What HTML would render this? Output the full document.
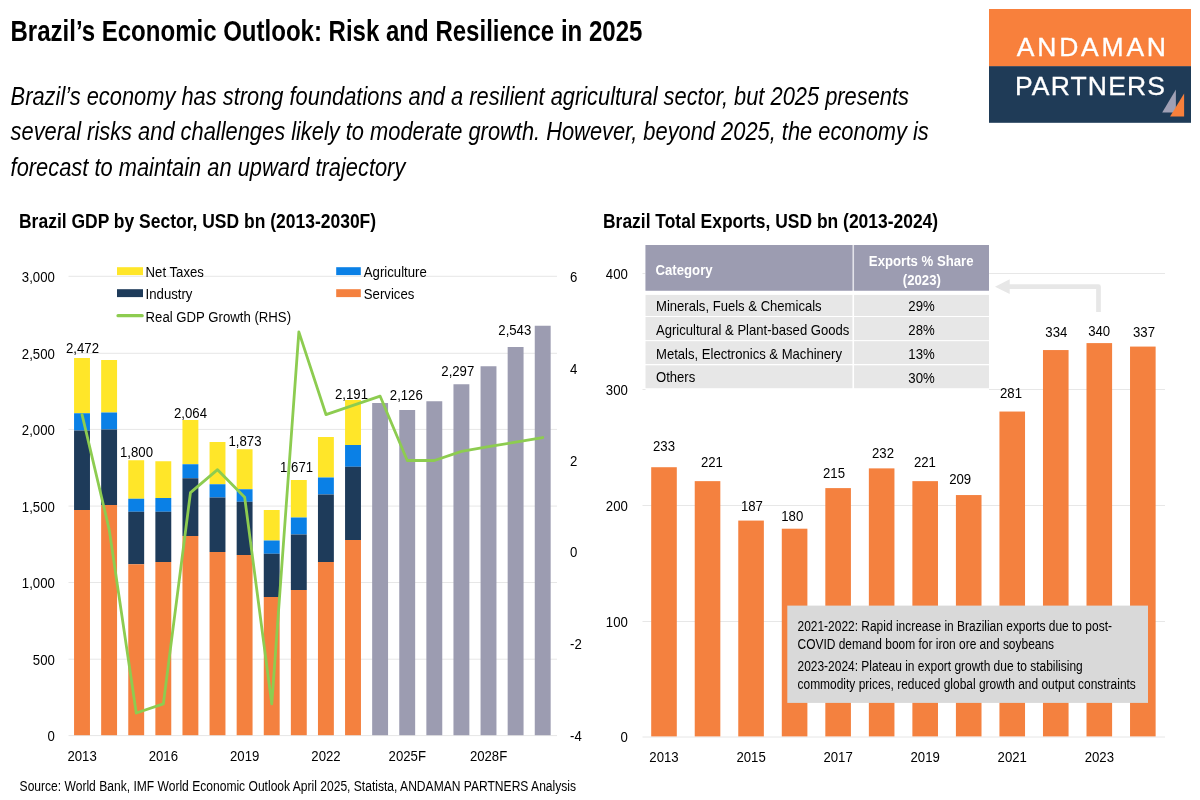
<!DOCTYPE html>
<html lang="en"><head><meta charset="utf-8"><title>Brazil’s Economic Outlook: Risk and Resilience in 2025</title>
<style>
html,body{margin:0;padding:0;background:#fff}
body{width:1200px;height:800px;overflow:hidden}
svg{display:block;font-family:'Liberation Sans', Arial, sans-serif}
text{font-family:'Liberation Sans', Arial, sans-serif}
</style></head><body>
<svg width="1200" height="800" viewBox="0 0 1200 800">
<rect width="1200" height="800" fill="#fff"/>
<text transform="translate(10.50 40.90) scale(0.8195 1)" font-size="29.33" font-weight="bold">Brazil’s Economic Outlook: Risk and Resilience in 2025</text>
<text transform="translate(10.60 104.80) scale(0.8195 1)" font-size="26.67" font-style="italic">Brazil’s economy has strong foundations and a resilient agricultural sector, but 2025 presents</text>
<text transform="translate(10.60 140.15) scale(0.8195 1)" font-size="26.67" font-style="italic">several risks and challenges likely to moderate growth. However, beyond 2025, the economy is</text>
<text transform="translate(10.60 175.50) scale(0.8195 1)" font-size="26.67" font-style="italic">forecast to maintain an upward trajectory</text>
<rect x="989.00" y="9.00" width="202.00" height="57.60" fill="#F8803C"/>
<rect x="989.00" y="66.20" width="202.00" height="56.60" fill="#1F3B57"/>
<text transform="translate(1016.8 55.8) scale(1.06 1)" font-size="25" fill="#fff" stroke="#fff" stroke-width="0.3" letter-spacing="2.63">ANDAMAN</text>
<text transform="translate(1015.0 95.4) scale(1.06 1)" font-size="25" fill="#fff" stroke="#fff" stroke-width="0.3" letter-spacing="1.1">PARTNERS</text>
<polygon points="1162.2,112.4 1175.9,89.4 1175.9,112.4" fill="#A0A0B5"/>
<polygon points="1170.1,116.4 1184.1,93.6 1184.1,116.4" fill="#F8803C"/>
<text transform="translate(19.00 228.00) scale(0.849 1)" font-size="20.6" font-weight="bold">Brazil GDP by Sector, USD bn (2013-2030F)</text>
<text transform="translate(603.00 228.00) scale(0.8477 1)" font-size="20.6" font-weight="bold">Brazil Total Exports, USD bn (2013-2024)</text>
<line x1="68.50" y1="276.30" x2="557.00" y2="276.30" stroke="#E7E7E7" stroke-width="1"/>
<line x1="68.50" y1="353.30" x2="557.00" y2="353.30" stroke="#E7E7E7" stroke-width="1"/>
<line x1="68.50" y1="429.40" x2="557.00" y2="429.40" stroke="#E7E7E7" stroke-width="1"/>
<line x1="68.50" y1="506.10" x2="557.00" y2="506.10" stroke="#E7E7E7" stroke-width="1"/>
<line x1="68.50" y1="582.50" x2="557.00" y2="582.50" stroke="#E7E7E7" stroke-width="1"/>
<line x1="68.50" y1="659.20" x2="557.00" y2="659.20" stroke="#E7E7E7" stroke-width="1"/>
<line x1="68.50" y1="735.60" x2="557.00" y2="735.60" stroke="#E6E6E6" stroke-width="1"/>
<text transform="translate(54.80 281.70) scale(0.867 1)" font-size="15.2" text-anchor="end">3,000</text>
<text transform="translate(54.80 358.70) scale(0.867 1)" font-size="15.2" text-anchor="end">2,500</text>
<text transform="translate(54.80 434.80) scale(0.867 1)" font-size="15.2" text-anchor="end">2,000</text>
<text transform="translate(54.80 511.50) scale(0.867 1)" font-size="15.2" text-anchor="end">1,500</text>
<text transform="translate(54.80 587.90) scale(0.867 1)" font-size="15.2" text-anchor="end">1,000</text>
<text transform="translate(54.80 664.60) scale(0.867 1)" font-size="15.2" text-anchor="end">500</text>
<text transform="translate(54.80 741.00) scale(0.867 1)" font-size="15.2" text-anchor="end">0</text>
<text transform="translate(570.00 281.85) scale(0.867 1)" font-size="15.2">6</text>
<text transform="translate(570.00 373.70) scale(0.867 1)" font-size="15.2">4</text>
<text transform="translate(570.00 465.55) scale(0.867 1)" font-size="15.2">2</text>
<text transform="translate(570.00 557.40) scale(0.867 1)" font-size="15.2">0</text>
<text transform="translate(570.00 649.25) scale(0.867 1)" font-size="15.2">-2</text>
<text transform="translate(570.00 741.10) scale(0.867 1)" font-size="15.2">-4</text>
<rect x="74.06" y="358.00" width="15.90" height="55.25" fill="#FFE629"/>
<rect x="74.06" y="413.25" width="15.90" height="17.25" fill="#0A80E6"/>
<rect x="74.06" y="430.50" width="15.90" height="79.50" fill="#1E3B5A"/>
<rect x="74.06" y="510.00" width="15.90" height="225.20" fill="#F4813F"/>
<rect x="101.16" y="360.00" width="15.90" height="52.50" fill="#FFE629"/>
<rect x="101.16" y="412.50" width="15.90" height="17.00" fill="#0A80E6"/>
<rect x="101.16" y="429.50" width="15.90" height="75.50" fill="#1E3B5A"/>
<rect x="101.16" y="505.00" width="15.90" height="230.20" fill="#F4813F"/>
<rect x="128.26" y="460.25" width="15.90" height="38.50" fill="#FFE629"/>
<rect x="128.26" y="498.75" width="15.90" height="13.00" fill="#0A80E6"/>
<rect x="128.26" y="511.75" width="15.90" height="52.50" fill="#1E3B5A"/>
<rect x="128.26" y="564.25" width="15.90" height="170.95" fill="#F4813F"/>
<rect x="155.36" y="461.25" width="15.90" height="36.75" fill="#FFE629"/>
<rect x="155.36" y="498.00" width="15.90" height="13.75" fill="#0A80E6"/>
<rect x="155.36" y="511.75" width="15.90" height="50.25" fill="#1E3B5A"/>
<rect x="155.36" y="562.00" width="15.90" height="173.20" fill="#F4813F"/>
<rect x="182.46" y="420.00" width="15.90" height="44.25" fill="#FFE629"/>
<rect x="182.46" y="464.25" width="15.90" height="14.00" fill="#0A80E6"/>
<rect x="182.46" y="478.25" width="15.90" height="57.75" fill="#1E3B5A"/>
<rect x="182.46" y="536.00" width="15.90" height="199.20" fill="#F4813F"/>
<rect x="209.56" y="442.00" width="15.90" height="42.25" fill="#FFE629"/>
<rect x="209.56" y="484.25" width="15.90" height="13.25" fill="#0A80E6"/>
<rect x="209.56" y="497.50" width="15.90" height="54.50" fill="#1E3B5A"/>
<rect x="209.56" y="552.00" width="15.90" height="183.20" fill="#F4813F"/>
<rect x="236.66" y="449.25" width="15.90" height="40.00" fill="#FFE629"/>
<rect x="236.66" y="489.25" width="15.90" height="12.50" fill="#0A80E6"/>
<rect x="236.66" y="501.75" width="15.90" height="53.25" fill="#1E3B5A"/>
<rect x="236.66" y="555.00" width="15.90" height="180.20" fill="#F4813F"/>
<rect x="263.76" y="510.00" width="15.90" height="30.50" fill="#FFE629"/>
<rect x="263.76" y="540.50" width="15.90" height="13.25" fill="#0A80E6"/>
<rect x="263.76" y="553.75" width="15.90" height="43.25" fill="#1E3B5A"/>
<rect x="263.76" y="597.00" width="15.90" height="138.20" fill="#F4813F"/>
<rect x="290.86" y="480.00" width="15.90" height="37.50" fill="#FFE629"/>
<rect x="290.86" y="517.50" width="15.90" height="17.00" fill="#0A80E6"/>
<rect x="290.86" y="534.50" width="15.90" height="55.50" fill="#1E3B5A"/>
<rect x="290.86" y="590.00" width="15.90" height="145.20" fill="#F4813F"/>
<rect x="317.96" y="437.00" width="15.90" height="40.50" fill="#FFE629"/>
<rect x="317.96" y="477.50" width="15.90" height="17.00" fill="#0A80E6"/>
<rect x="317.96" y="494.50" width="15.90" height="67.50" fill="#1E3B5A"/>
<rect x="317.96" y="562.00" width="15.90" height="173.20" fill="#F4813F"/>
<rect x="345.06" y="400.00" width="15.90" height="45.00" fill="#FFE629"/>
<rect x="345.06" y="445.00" width="15.90" height="21.75" fill="#0A80E6"/>
<rect x="345.06" y="466.75" width="15.90" height="73.25" fill="#1E3B5A"/>
<rect x="345.06" y="540.00" width="15.90" height="195.20" fill="#F4813F"/>
<rect x="372.16" y="403.00" width="15.90" height="332.20" fill="#9C9CB1"/>
<rect x="399.26" y="410.00" width="15.90" height="325.20" fill="#9C9CB1"/>
<rect x="426.36" y="401.25" width="15.90" height="333.95" fill="#9C9CB1"/>
<rect x="453.46" y="384.25" width="15.90" height="350.95" fill="#9C9CB1"/>
<rect x="480.56" y="366.25" width="15.90" height="368.95" fill="#9C9CB1"/>
<rect x="507.66" y="347.00" width="15.90" height="388.20" fill="#9C9CB1"/>
<rect x="534.76" y="325.75" width="15.90" height="409.45" fill="#9C9CB1"/>
<text transform="translate(82.50 352.80) scale(0.867 1)" font-size="15.2" text-anchor="middle">2,472</text>
<text transform="translate(136.50 457.00) scale(0.867 1)" font-size="15.2" text-anchor="middle">1,800</text>
<text transform="translate(190.50 417.50) scale(0.867 1)" font-size="15.2" text-anchor="middle">2,064</text>
<text transform="translate(245.00 445.50) scale(0.867 1)" font-size="15.2" text-anchor="middle">1,873</text>
<text transform="translate(296.60 472.00) scale(0.867 1)" font-size="15.2" text-anchor="middle">1,671</text>
<text transform="translate(351.50 399.30) scale(0.867 1)" font-size="15.2" text-anchor="middle">2,191</text>
<text transform="translate(406.30 399.50) scale(0.867 1)" font-size="15.2" text-anchor="middle">2,126</text>
<text transform="translate(457.80 375.80) scale(0.867 1)" font-size="15.2" text-anchor="middle">2,297</text>
<text transform="translate(514.80 334.50) scale(0.867 1)" font-size="15.2" text-anchor="middle">2,543</text>
<polyline points="82.06,414.56 109.16,529.36 136.26,713.04 163.36,703.86 190.46,492.62 217.56,469.66 244.66,497.22 271.76,703.86 298.86,331.90 325.96,414.56 353.06,405.38 380.16,396.19 407.26,460.48 434.36,460.48 461.46,451.30 488.56,446.70 515.66,442.11 542.76,437.52" fill="none" stroke="#8DCC50" stroke-width="2.8" stroke-linejoin="round" stroke-linecap="round"/>
<text transform="translate(82.06 760.60) scale(0.867 1)" font-size="15.2" text-anchor="middle">2013</text>
<text transform="translate(163.36 760.60) scale(0.867 1)" font-size="15.2" text-anchor="middle">2016</text>
<text transform="translate(244.66 760.60) scale(0.867 1)" font-size="15.2" text-anchor="middle">2019</text>
<text transform="translate(325.96 760.60) scale(0.867 1)" font-size="15.2" text-anchor="middle">2022</text>
<text transform="translate(407.26 760.60) scale(0.867 1)" font-size="15.2" text-anchor="middle">2025F</text>
<text transform="translate(488.56 760.60) scale(0.867 1)" font-size="15.2" text-anchor="middle">2028F</text>
<rect x="117.00" y="267.20" width="26.00" height="7.90" fill="#FFE629"/>
<text transform="translate(145.60 277.00) scale(0.867 1)" font-size="15.2">Net Taxes</text>
<rect x="117.00" y="289.20" width="26.00" height="7.90" fill="#1E3B5A"/>
<text transform="translate(145.60 299.30) scale(0.867 1)" font-size="15.2">Industry</text>
<line x1="118" y1="315.7" x2="142.2" y2="315.7" stroke="#8DCC50" stroke-width="3.2" stroke-linecap="round"/>
<text transform="translate(145.60 322.20) scale(0.867 1)" font-size="15.2">Real GDP Growth (RHS)</text>
<rect x="336.20" y="267.20" width="24.60" height="7.90" fill="#0A80E6"/>
<text transform="translate(363.80 277.00) scale(0.867 1)" font-size="15.2">Agriculture</text>
<rect x="336.20" y="289.20" width="24.60" height="7.90" fill="#F4813F"/>
<text transform="translate(363.80 299.30) scale(0.867 1)" font-size="15.2">Services</text>
<line x1="642.50" y1="273.50" x2="1165.00" y2="273.50" stroke="#E7E7E7" stroke-width="1"/>
<line x1="642.50" y1="389.50" x2="1165.00" y2="389.50" stroke="#E7E7E7" stroke-width="1"/>
<line x1="642.50" y1="505.50" x2="1165.00" y2="505.50" stroke="#E7E7E7" stroke-width="1"/>
<line x1="642.50" y1="621.50" x2="1165.00" y2="621.50" stroke="#E7E7E7" stroke-width="1"/>
<line x1="642.50" y1="737.00" x2="1165.00" y2="737.00" stroke="#E6E6E6" stroke-width="1"/>
<text transform="translate(627.80 279.10) scale(0.867 1)" font-size="15.2" text-anchor="end">400</text>
<text transform="translate(627.80 395.10) scale(0.867 1)" font-size="15.2" text-anchor="end">300</text>
<text transform="translate(627.80 511.10) scale(0.867 1)" font-size="15.2" text-anchor="end">200</text>
<text transform="translate(627.80 627.10) scale(0.867 1)" font-size="15.2" text-anchor="end">100</text>
<text transform="translate(627.80 742.10) scale(0.867 1)" font-size="15.2" text-anchor="end">0</text>
<rect x="651.20" y="467.22" width="25.60" height="269.18" fill="#F4813F"/>
<rect x="694.73" y="481.14" width="25.60" height="255.26" fill="#F4813F"/>
<rect x="738.26" y="520.58" width="25.60" height="215.82" fill="#F4813F"/>
<rect x="781.79" y="528.70" width="25.60" height="207.70" fill="#F4813F"/>
<rect x="825.32" y="488.10" width="25.60" height="248.30" fill="#F4813F"/>
<rect x="868.85" y="468.38" width="25.60" height="268.02" fill="#F4813F"/>
<rect x="912.38" y="481.14" width="25.60" height="255.26" fill="#F4813F"/>
<rect x="955.91" y="495.06" width="25.60" height="241.34" fill="#F4813F"/>
<rect x="999.44" y="411.54" width="25.60" height="324.86" fill="#F4813F"/>
<rect x="1042.97" y="350.06" width="25.60" height="386.34" fill="#F4813F"/>
<rect x="1086.50" y="343.10" width="25.60" height="393.30" fill="#F4813F"/>
<rect x="1130.03" y="346.58" width="25.60" height="389.82" fill="#F4813F"/>
<text transform="translate(664.00 450.75) scale(0.867 1)" font-size="15.2" text-anchor="middle">233</text>
<text transform="translate(711.90 467.00) scale(0.867 1)" font-size="15.2" text-anchor="middle">221</text>
<text transform="translate(751.90 510.75) scale(0.867 1)" font-size="15.2" text-anchor="middle">187</text>
<text transform="translate(792.25 521.25) scale(0.867 1)" font-size="15.2" text-anchor="middle">180</text>
<text transform="translate(834.00 478.00) scale(0.867 1)" font-size="15.2" text-anchor="middle">215</text>
<text transform="translate(883.00 458.00) scale(0.867 1)" font-size="15.2" text-anchor="middle">232</text>
<text transform="translate(924.90 467.20) scale(0.867 1)" font-size="15.2" text-anchor="middle">221</text>
<text transform="translate(960.20 484.20) scale(0.867 1)" font-size="15.2" text-anchor="middle">209</text>
<text transform="translate(1011.00 398.00) scale(0.867 1)" font-size="15.2" text-anchor="middle">281</text>
<text transform="translate(1056.30 337.40) scale(0.867 1)" font-size="15.2" text-anchor="middle">334</text>
<text transform="translate(1099.20 335.60) scale(0.867 1)" font-size="15.2" text-anchor="middle">340</text>
<text transform="translate(1144.00 336.80) scale(0.867 1)" font-size="15.2" text-anchor="middle">337</text>
<text transform="translate(664.00 762.00) scale(0.867 1)" font-size="15.2" text-anchor="middle">2013</text>
<text transform="translate(751.06 762.00) scale(0.867 1)" font-size="15.2" text-anchor="middle">2015</text>
<text transform="translate(838.12 762.00) scale(0.867 1)" font-size="15.2" text-anchor="middle">2017</text>
<text transform="translate(925.18 762.00) scale(0.867 1)" font-size="15.2" text-anchor="middle">2019</text>
<text transform="translate(1012.24 762.00) scale(0.867 1)" font-size="15.2" text-anchor="middle">2021</text>
<text transform="translate(1099.30 762.00) scale(0.867 1)" font-size="15.2" text-anchor="middle">2023</text>
<polyline points="1098.5,312.1 1098.5,286.65 1008,286.65" fill="none" stroke="#E7E7E7" stroke-width="4.7" stroke-linejoin="round"/>
<polygon points="995,286.65 1009.7,279.3 1009.7,294" fill="#E7E7E7"/>
<rect x="645.50" y="245.00" width="343.50" height="146.00" fill="#fff"/>
<rect x="645.50" y="245.00" width="343.50" height="45.70" fill="#E3E3EA"/>
<rect x="645.50" y="245.00" width="206.95" height="45.70" fill="#9C9CB1"/>
<rect x="854.05" y="245.00" width="134.95" height="45.70" fill="#9C9CB1"/>
<rect x="645.50" y="294.90" width="206.95" height="21.10" fill="#E7E7E7"/>
<rect x="854.05" y="294.90" width="134.95" height="21.10" fill="#E7E7E7"/>
<text transform="translate(656.00 310.70) scale(0.8607 1)" font-size="15.2">Minerals, Fuels &amp; Chemicals</text>
<text transform="translate(921.50 311.00) scale(0.867 1)" font-size="15.2" text-anchor="middle">29%</text>
<rect x="645.50" y="317.00" width="206.95" height="23.10" fill="#E7E7E7"/>
<rect x="854.05" y="317.00" width="134.95" height="23.10" fill="#E7E7E7"/>
<text transform="translate(656.00 334.60) scale(0.8607 1)" font-size="15.2">Agricultural &amp; Plant-based Goods</text>
<text transform="translate(921.50 334.90) scale(0.867 1)" font-size="15.2" text-anchor="middle">28%</text>
<rect x="645.50" y="341.20" width="206.95" height="22.80" fill="#E7E7E7"/>
<rect x="854.05" y="341.20" width="134.95" height="22.80" fill="#E7E7E7"/>
<text transform="translate(656.00 358.80) scale(0.8607 1)" font-size="15.2">Metals, Electronics &amp; Machinery</text>
<text transform="translate(921.50 359.10) scale(0.867 1)" font-size="15.2" text-anchor="middle">13%</text>
<rect x="645.50" y="365.30" width="206.95" height="22.90" fill="#E7E7E7"/>
<rect x="854.05" y="365.30" width="134.95" height="22.90" fill="#E7E7E7"/>
<text transform="translate(656.00 382.40) scale(0.8607 1)" font-size="15.2">Others</text>
<text transform="translate(921.50 382.70) scale(0.867 1)" font-size="15.2" text-anchor="middle">30%</text>
<text transform="translate(655.50 275.00) scale(0.867 1)" font-size="15.2" font-weight="bold" fill="#fff">Category</text>
<text transform="translate(921.20 265.70) scale(0.867 1)" font-size="15.2" text-anchor="middle" font-weight="bold" fill="#fff">Exports % Share</text>
<text transform="translate(921.80 284.80) scale(0.867 1)" font-size="15.2" text-anchor="middle" font-weight="bold" fill="#fff">(2023)</text>
<rect x="787.30" y="605.60" width="360.70" height="97.30" fill="#D9D9D9"/>
<text transform="translate(797.50 630.90) scale(0.816 1)" font-size="14.67">2021-2022: Rapid increase in Brazilian exports due to post-</text>
<text transform="translate(797.50 648.80) scale(0.816 1)" font-size="14.67">COVID demand boom for iron ore and soybeans</text>
<text transform="translate(797.50 670.90) scale(0.816 1)" font-size="14.67">2023-2024: Plateau in export growth due to stabilising</text>
<text transform="translate(797.50 688.80) scale(0.816 1)" font-size="14.67">commodity prices, reduced global growth and output constraints</text>
<text transform="translate(19.60 790.60) scale(0.8236 1)" font-size="14.67">Source: World Bank, IMF World Economic Outlook April 2025, Statista, ANDAMAN PARTNERS Analysis</text>
</svg>
</body></html>
